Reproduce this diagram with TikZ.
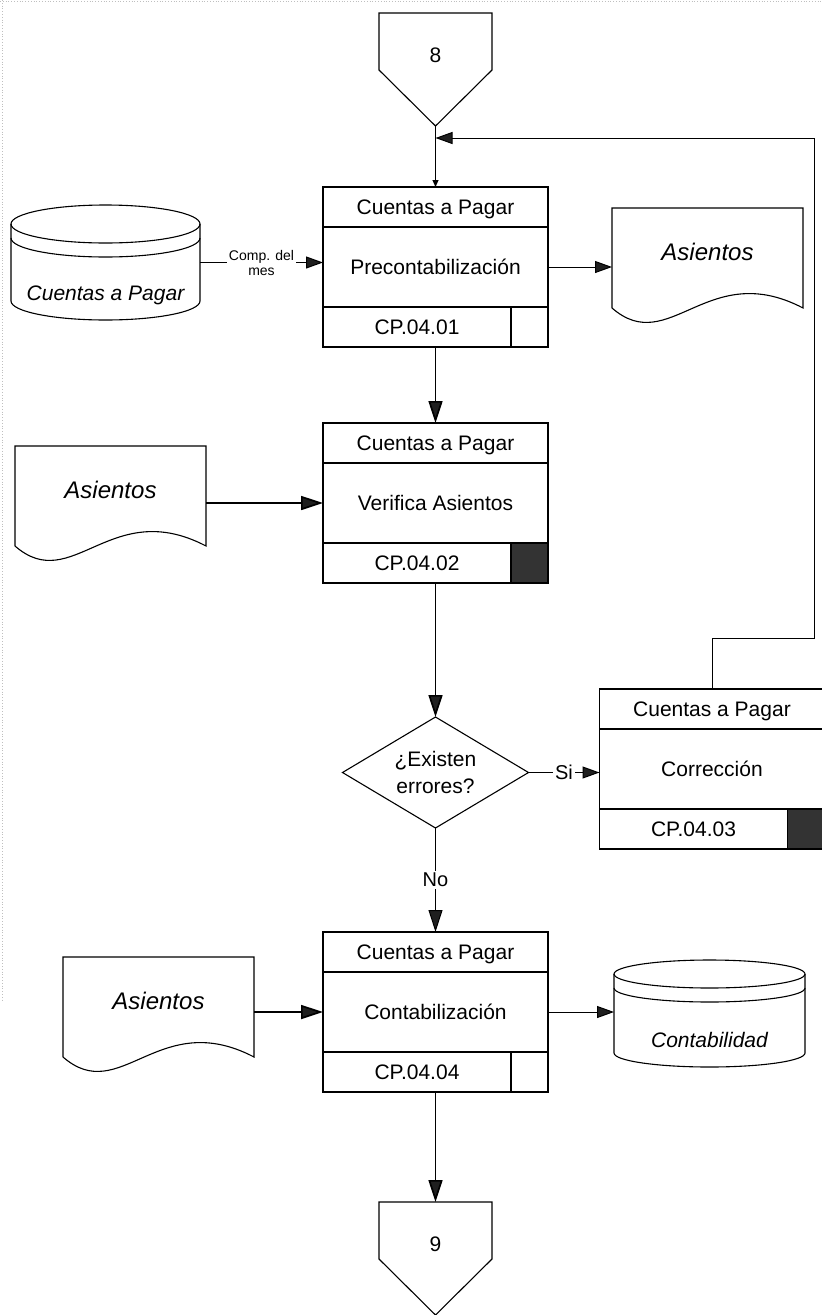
\documentclass[tikz,border=0pt]{standalone}
\usepackage{fontspec}
\setmainfont{Liberation Sans}
\usetikzlibrary{arrows.meta,calc}

% lower half of an ellipse, from its left end to its right end
\newcommand{\halfdown}[4]{.. controls (#1-#3,#2+0.5523*#4) and (#1-0.5523*#3,#2+#4) .. (#1,#2+#4) .. controls (#1+0.5523*#3,#2+#4) and (#1+#3,#2+0.5523*#4) .. (#1+#3,#2)}

% process box: name, centre x, top y, activity, code, fill of the corner cell
\newcommand{\procbox}[6]{%
  \node[shapebox,minimum width=225,minimum height=160] (#1) at (#2,#3+80) {};
  \fill[#6] ($(#1.south east)+(-37,0)$) rectangle ($(#1.south east)+(0,-40)$);
  \draw[frame] (#1.north west) rectangle (#1.south east);
  \draw[frame] ($(#1.north west)+(0,40)$) -- ($(#1.north east)+(0,40)$);
  \draw[frame] ($(#1.south west)+(0,-40)$) -- ($(#1.south east)+(0,-40)$);
  \draw[frame] ($(#1.south east)+(-37,0)$) -- ($(#1.south east)+(-37,-40)$);
  \node[txt] (#1-h) at ($(#1.north)+(0,20)$) {Cuentas a Pagar};
  \node[txt] (#1-b) at (#1.center) {#4};
  \node[txt] (#1-c) at ($(#1.south)+(-18.5,-20)$) {#5};
}

% stored data: name, centre x, top y, x radius, y radius, height, label
\newcommand{\dbase}[7]{%
  \node[shapebox,minimum width={2*#4},minimum height=#6] (#1) at (#2,#3+#6/2) {};
  \draw[frame] (#2,#3+#5) ellipse [x radius=#4, y radius=#5];
  \draw[frame] (#2-#4,#3+#5+14) \halfdown{#2}{#3+#5+14}{#4}{#5};
  \draw[frame] (#2-#4,#3+#5) -- (#2-#4,#3+#6-#5) \halfdown{#2}{#3+#6-#5}{#4}{#5} -- (#2+#4,#3+#5);
  \node[itxt] (#1-t) at (#2,#3+#6-27) {#7};
}

% document: name, left x, top y, label
\newcommand{\docu}[4]{%
  \node[shapebox,minimum width=191,minimum height=100] (#1) at (#2+95.5,#3+50) {};
  \draw[frame] (#1.south west) -- (#1.north west) -- (#1.north east) -- (#1.south east)
     .. controls +(-95.5,-50) and +(57.3,50) .. (#1.south west);
  \node[doctxt] (#1-t) at (#2+95.5,#3+44) {#4};
}

% off-page connector: name, centre x, top y, number
\newcommand{\offpage}[4]{%
  \node[shapebox,minimum width=113,minimum height=113] (#1) at (#2,#3+56.5) {};
  \draw[frame] (#1.north west) -- (#1.north east) -- ($(#1.north east)+(0,57)$)
     -- (#1.south) -- ($(#1.north west)+(0,57)$) -- cycle;
  \node[txt] (#1-t) at ($(#1.north)+(0,42)$) {#4};
}

\begin{document}
\begin{tikzpicture}[x=1pt,y=-1pt,line join=miter,
  frame/.style={line width=1.1pt},
  shapebox/.style={draw=none,inner sep=0pt,outer sep=0pt},
  txt/.style={font=\fontsize{21}{25}\selectfont,inner sep=0pt,text height=15pt,text depth=0pt},
  itxt/.style={txt,font=\fontsize{21}{25}\selectfont\itshape},
  doctxt/.style={txt,font=\fontsize{24}{28}\selectfont\itshape,text height=17pt},
  bigtip/.style={-{Triangle[length=22pt,width=14pt,fill=black!88]}},
  flow/.style={line width=1.7pt,bigtip},
  link/.style={line width=1pt,-{Triangle[length=17pt,width=12pt,fill=black!88]}},
  tag/.style={fill=white,inner sep=2pt,align=center},
]
\useasboundingbox (0,0) rectangle (822,1315);
\clip (0,0) rectangle (822,1315);

% faint scan edges
\draw[gray!50,dotted,line width=0.8pt] (0,1.5) -- (822,1.5);
\draw[gray!50,dotted,line width=0.8pt] (2,0) -- (2,1000);

\offpage{c8}{435.5}{13}{8}
\procbox{p1}{435.5}{187}{Precontabilización}{CP.04.01}{white}
\dbase{db1}{105.5}{205}{94.5}{19}{115}{Cuentas a Pagar}
\docu{d1}{612}{208}{Asientos}

\procbox{p2}{435.5}{423}{Verifica Asientos}{CP.04.02}{black!80}
\docu{d2}{15}{446}{Asientos}

\node[shapebox,minimum width=186,minimum height=111] (dia) at (435.5,772.5) {};
\draw[frame] (dia.north) -- (dia.east) -- (dia.south) -- (dia.west) -- cycle;
\node[font=\fontsize{21}{27}\selectfont,align=center,inner sep=0pt] (dia-t) at (dia.center) {¿Existen\\errores?};

\procbox{p3}{712}{689}{Corrección}{CP.04.03}{black!80}

\procbox{p4}{435.5}{932}{Contabilización}{CP.04.04}{white}
\docu{d3}{63}{957}{Asientos}
\dbase{db2}{709.5}{960}{95.5}{14}{107}{Contabilidad}

\offpage{c9}{435.5}{1202}{9}

% connectors
\coordinate (fbA) at (814,638);
\coordinate (fbB) at (814,138);
\draw[line width=1pt,-{Triangle[length=7pt,width=6pt]}] (c8.south) -- (p1.north);
\draw[link] (p3.north) |- (fbA) -- (fbB) -- (fbB -| c8.south);
\draw[link] (db1.east) -- node[tag,font=\fontsize{14}{15}\selectfont] (lbl) {Comp. del\\mes} (db1.east -| p1.west);
\draw[link] (p1.east) -- (p1.east -| d1.west);
\draw[flow] (p1.south) -- (p2.north);
\draw[flow] (p2.west -| d2.east) -- (p2.west);
\draw[flow] (p2.south) -- (dia.north);
\draw[link] (dia.east) -- node[tag,font=\fontsize{20}{24}\selectfont] (si) {Si} (dia.east -| p3.west);
\draw[line width=1pt,bigtip] (dia.south) -- node[tag,font=\fontsize{20}{24}\selectfont] (no) {No} (p4.north);
\draw[flow] (p4.west -| d3.east) -- (p4.west);
\draw[link] (p4.east) -- (p4.east -| db2.west);
\draw[flow] (p4.south) -- (c9.north);
\end{tikzpicture}
\end{document}
